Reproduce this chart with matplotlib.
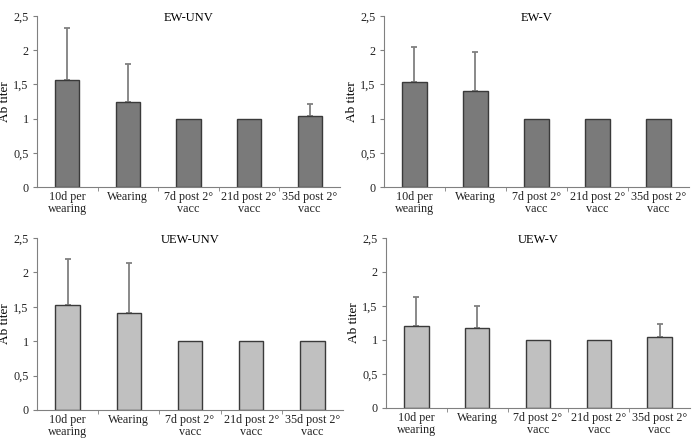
import matplotlib.pyplot as plt
import numpy as np

plt.rcParams["font.family"] = ["Liberation Serif", "DejaVu Serif"]

categories = ["10d per\nwearing", "Wearing", "7d post 2°\nvacc", "21d post 2°\nvacc", "35d post 2°\nvacc"]

titles = ["EW-UNV", "EW-V", "UEW-UNV", "UEW-V"]

ew_unv = [1.56, 1.25, 1.0, 1.0, 1.035]
ew_unv_err = [0.77, 0.55, 0.0, 0.0, 0.18]

ew_v = [1.53, 1.41, 1.0, 1.0, 1.0]
ew_v_err = [0.51, 0.57, 0.0, 0.0, 0.0]

uew_unv = [1.52, 1.41, 1.0, 1.0, 1.0]
uew_unv_err = [0.68, 0.73, 0.0, 0.0, 0.0]

uew_v = [1.21, 1.18, 1.0, 1.0, 1.04]
uew_v_err = [0.42, 0.32, 0.0, 0.0, 0.19]

values = [ew_unv, ew_v, uew_unv, uew_v]
errors = [ew_unv_err, ew_v_err, uew_unv_err, uew_v_err]
colors = ["#7a7a7a", "#7a7a7a", "#c0c0c0", "#c0c0c0"]

# axes boxes in pixels: left, right, top, bottom
boxes = [(37, 340, 16, 187), (384, 689, 16, 187),
         (37, 343, 238, 410), (386, 690, 238, 408)]

W, H = 692, 438
fig = plt.figure(figsize=(W / 100, H / 100), dpi=100)

x = np.arange(len(categories))

for i in range(4):
    l, r, t, b = boxes[i]
    ax = fig.add_axes([l / W, 1 - b / H, (r - l) / W, (b - t) / H])
    err = errors[i]
    yerr = [[0] * len(err), err]
    ax.bar(x, values[i], width=0.4, color=colors[i], edgecolor="#3a3a3a", linewidth=1.0, zorder=2)
    has_err = [e > 0 for e in err]
    ax.errorbar(x[has_err], np.array(values[i])[has_err],
                yerr=np.array(yerr)[:, has_err], fmt="none",
                ecolor="#808080", elinewidth=1.3, capsize=2.5, capthick=1.3, zorder=1)
    ax.set_xlim(-0.5, len(categories) - 0.5)
    ax.set_ylim(0, 2.5)
    ax.set_yticks([0, 0.5, 1, 1.5, 2, 2.5])
    ax.set_yticklabels(["0", "0,5", "1", "1,5", "2", "2,5"], fontsize=8.7, color="#222222")
    ax.set_xticks(x)
    ax.set_xticklabels(categories, fontsize=8.7, linespacing=1.0, color="#222222")
    ax.set_xticks(np.arange(0.5, len(categories) - 1, 1), minor=True)
    ax.tick_params(axis="x", which="major", length=0, pad=3)
    ax.tick_params(axis="x", which="minor", length=3, color="#808080")
    ax.tick_params(axis="y", length=3, color="#808080", pad=3)
    for s in ["top", "right"]:
        ax.spines[s].set_visible(False)
    for s in ["left", "bottom"]:
        ax.spines[s].set_color("#808080")
    ax.set_ylabel("Ab titer", fontsize=9.5, labelpad=2)
    ax.set_title(titles[i], fontsize=9, y=0.92)

plt.savefig("out.png", dpi=100)
